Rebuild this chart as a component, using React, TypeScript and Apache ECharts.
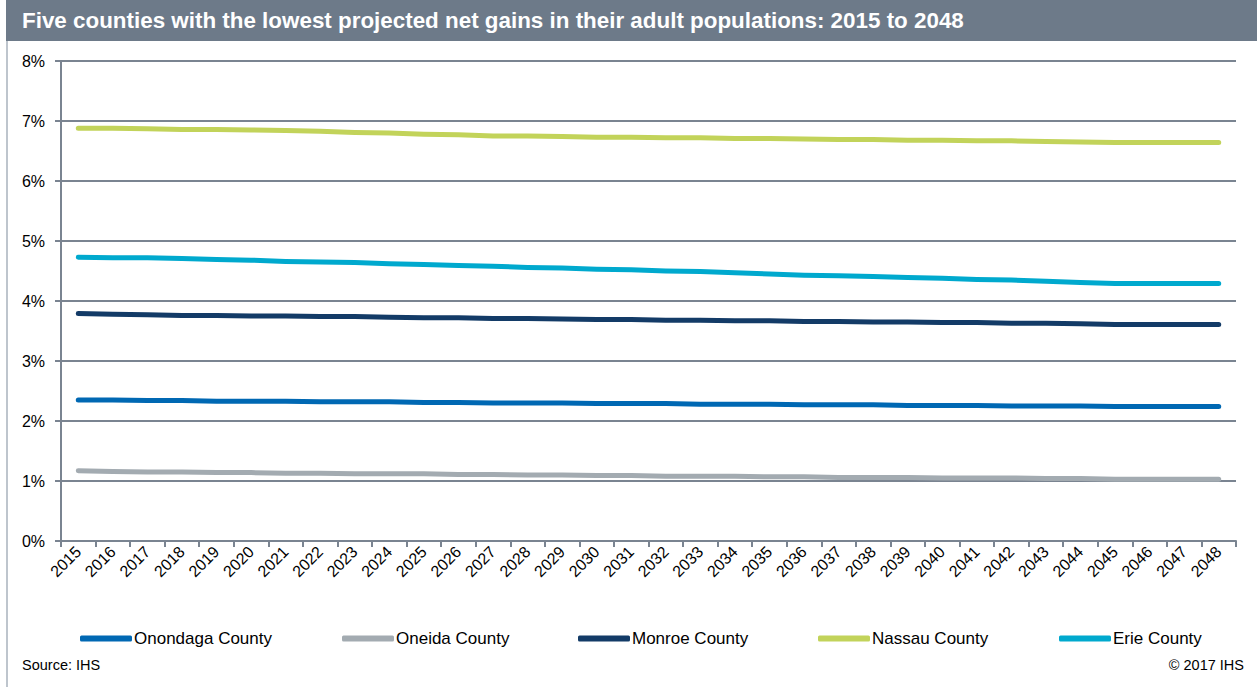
import React, { useEffect, useRef } from "react";
import * as echarts from "echarts";

const years = [
  "2015","2016","2017","2018","2019","2020","2021","2022","2023","2024","2025","2026",
  "2027","2028","2029","2030","2031","2032","2033","2034","2035","2036","2037","2038",
  "2039","2040","2041","2042","2043","2044","2045","2046","2047","2048",
];

const onondaga = [2.35,2.35,2.34,2.34,2.33,2.33,2.33,2.32,2.32,2.32,2.31,2.31,2.30,2.30,2.30,2.29,2.29,2.29,2.28,2.28,2.28,2.27,2.27,2.27,2.26,2.26,2.26,2.25,2.25,2.25,2.24,2.24,2.24,2.24];
const oneida = [1.17,1.16,1.15,1.15,1.14,1.14,1.13,1.13,1.12,1.12,1.12,1.11,1.11,1.10,1.10,1.09,1.09,1.08,1.08,1.08,1.07,1.07,1.06,1.06,1.06,1.05,1.05,1.05,1.04,1.04,1.03,1.03,1.03,1.03];
const monroe = [3.79,3.78,3.77,3.76,3.76,3.75,3.75,3.74,3.74,3.73,3.72,3.72,3.71,3.71,3.70,3.69,3.69,3.68,3.68,3.67,3.67,3.66,3.66,3.65,3.65,3.64,3.64,3.63,3.63,3.62,3.61,3.61,3.61,3.61];
const nassau = [6.88,6.88,6.87,6.86,6.86,6.85,6.84,6.83,6.81,6.80,6.78,6.77,6.75,6.75,6.74,6.73,6.73,6.72,6.72,6.71,6.71,6.70,6.69,6.69,6.68,6.68,6.67,6.67,6.66,6.65,6.64,6.64,6.64,6.64];
const erie = [4.73,4.72,4.72,4.71,4.69,4.68,4.66,4.65,4.64,4.62,4.61,4.59,4.58,4.56,4.55,4.53,4.52,4.50,4.49,4.47,4.45,4.43,4.42,4.41,4.39,4.38,4.36,4.35,4.33,4.31,4.29,4.29,4.29,4.29];

const seriesNames = ["Onondaga County", "Oneida County", "Monroe County", "Nassau County", "Erie County"];
const seriesData = [onondaga, oneida, monroe, nassau, erie];
const seriesColors = ["#0068B3", "#A3ABB1", "#133B67", "#C2D35A", "#00A9CE"];
const legendLefts = [75, 337, 573, 813, 1054];

const titleText = "Five counties with the lowest projected net gains in their adult populations: 2015 to 2048";
const sourceText = "Source: IHS";
const copyrightText = "© 2017 IHS";

const FONT = "Arial, 'Liberation Sans', Helvetica, sans-serif";
const GRID = "#7A8491";

export default function App() {
  const ref = useRef<HTMLDivElement>(null);

  useEffect(() => {
    if (!ref.current) return;
    const chart = echarts.init(ref.current, undefined, { renderer: "svg" });
    chart.setOption({
      animation: false,
      backgroundColor: "#ffffff",
      textStyle: { fontFamily: FONT },
      grid: { left: 61, right: 21, top: 61, bottom: 146, containLabel: false },
      xAxis: {
        type: "category",
        data: years,
        boundaryGap: true,
        axisLine: { show: true, lineStyle: { color: GRID, width: 2 } },
        axisTick: { show: true, interval: 0, length: 6, lineStyle: { color: GRID, width: 2 } },
        axisLabel: { interval: 0, rotate: 45, fontSize: 16, color: "#000", margin: 8, fontFamily: FONT },
        splitLine: { show: false },
      },
      yAxis: {
        type: "value",
        min: 0,
        max: 8,
        interval: 1,
        axisLine: { show: true, lineStyle: { color: GRID, width: 2 } },
        axisTick: { show: true, length: 6, lineStyle: { color: GRID, width: 2 } },
        axisLabel: { formatter: "{value}%", fontSize: 16, color: "#000", margin: 16, fontFamily: FONT },
        splitLine: { show: true, lineStyle: { color: GRID, width: 2 } },
      },
      legend: seriesNames.map((name, i) => ({
        data: [name],
        left: legendLefts[i],
        top: 625,
        icon: "roundRect",
        itemWidth: 52,
        itemHeight: 6,
        textStyle: { fontSize: 17, color: "#000", fontFamily: FONT, padding: [0, 0, 0, -3] },
        selectedMode: false,
      })),
      series: seriesNames.map((name, i) => ({
        name,
        type: "line",
        data: seriesData[i],
        showSymbol: false,
        symbol: "none",
        color: seriesColors[i],
        lineStyle: { width: 5, color: seriesColors[i], cap: "round", join: "round" },
        itemStyle: { color: seriesColors[i] },
      })),
      graphic: [
        {
          type: "rect",
          left: 6,
          top: 0,
          shape: { width: 1251, height: 41 },
          style: { fill: "#6D7A89" },
          silent: true,
        },
        {
          type: "line",
          shape: { x1: 7, y1: 41, x2: 7, y2: 687 },
          style: { stroke: "#A9B2BD", lineWidth: 1.5 },
          silent: true,
        },
        {
          type: "text",
          left: 22,
          top: 9,
          style: { text: titleText, fill: "#ffffff", font: `bold 22.4px ${FONT}` },
          silent: true,
        },
        {
          type: "text",
          left: 22,
          top: 657,
          style: { text: sourceText, fill: "#000", font: `14.5px ${FONT}` },
          silent: true,
        },
        {
          type: "text",
          right: 13,
          top: 657,
          style: { text: copyrightText, fill: "#000", font: `14.5px ${FONT}` },
          silent: true,
        },
      ],
    });
    return () => chart.dispose();
  }, []);

  return (
    <div
      ref={ref}
      style={{ position: "fixed", left: 0, top: 0, width: 1257, height: 687 }}
    />
  );
}
